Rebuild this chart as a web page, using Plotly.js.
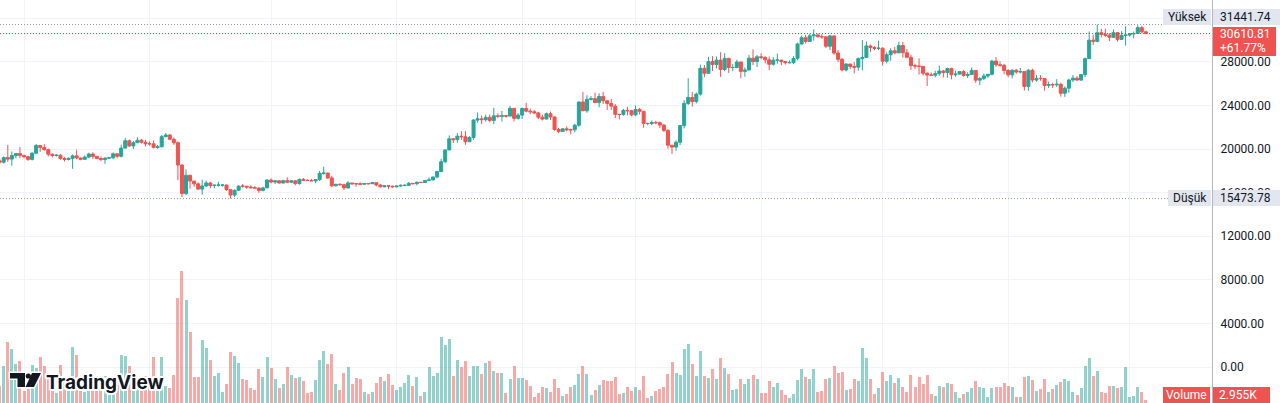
<!DOCTYPE html>
<html><head><meta charset="utf-8">
<script src="https://cdn.plot.ly/plotly-3.0.1.min.js"></script>
<style>
html,body{margin:0;padding:0;background:#fff;overflow:hidden}
#chart{width:1280px;height:403px}
</style></head><body><div id="chart"></div>
<script>
// ---------------- DATA (daily candles, 2022-09-25 .. 2023-07-05) ----------------
const startDate = [2022, 8, 25];          // year, month index, day of first candle
const firstOpen = 18925;

const closePrices = [
  /*Sep*/ 18803,19222,19084,19412,19591,19422,
  /*Oct*/ 19310,19056,19629,20337,20159,19955,19531,19417,19446,19141,19051,19157,19382,19185,19067,19268,19550,19334,19139,19053,19172,19208,19567,19345,20095,20771,20295,20591,20818,20635,20495,
  /*Nov*/ 20485,20159,20209,21148,21300,20905,20591,18547,15922,17601,17070,16812,16330,16619,16900,16662,16692,16700,16700,16280,15781,16227,16603,16598,16522,16458,16428,16213,16442,17163,
  /*Dec*/ 16977,17092,16885,17105,16967,17089,16836,17224,17128,17127,17085,17208,17775,17804,17356,16632,16776,16739,16438,16895,16824,16821,16778,16837,16830,16919,16706,16547,16633,16607,16542,
  /*Jan*/ 16616,16672,16675,16850,16831,16950,16943,17128,17178,17440,17943,18846,19930,20954,20872,21185,21133,20677,21071,22667,22783,22707,22916,22633,23061,23009,23075,23032,23743,22827,23125,
  /*Feb*/ 23732,23488,23431,23326,22933,22762,23249,22954,21797,21625,21862,21783,21773,22199,24324,23518,24569,24631,24271,24838,24439,24188,23947,23198,23175,23561,23523,23147,
  /*Mar*/ 23646,23475,22362,22354,22435,22429,22216,21718,20363,20187,20633,22163,24197,24746,24375,25052,27423,26965,28038,27767,28175,27307,28333,27493,27494,27994,27139,27268,28348,28033,28478,
  /*Apr*/ 28411,28199,27790,28168,28175,28044,27925,27947,28333,29653,30235,29892,30400,30485,30318,30315,29445,30397,28822,28245,27262,27817,27591,27525,28307,28422,29473,29340,29248,29268,
  /*May*/ 28068,28669,29026,28838,29506,28848,28430,27668,27628,27598,26968,26805,26785,26930,27171,27036,27398,26833,26889,27118,26760,26850,27225,26334,26476,26719,26868,28085,27745,27702,27219,
  /*Jun*/ 26819,27249,27075,27119,25760,27238,26346,26498,26478,25841,25925,25902,25954,25128,25598,26345,26517,26339,26845,28307,30007,29890,30688,30528,30462,30267,30693,30077,30446,30472,
  /*Jul*/ 30585,30617,31156,30767,30610.81
];

const highPrices = [
  /*Sep*/ 19180,19316,20385,19790,19645,20185,
  /*Oct*/ 19484,19395,19719,20475,20365,20456,20055,19620,19559,19527,19264,19224,19513,19951,19228,19424,19676,19706,19360,19345,19250,19250,19695,19601,20415,21020,20876,20750,21085,20930,20840,
  /*Nov*/ 20700,20800,20390,21300,21480,21370,21060,20700,18590,18150,17650,17080,16950,17190,17134,17000,16750,17000,16800,16750,16290,16300,16680,16800,16610,16690,16600,16480,16550,17250,
  /*Dec*/ 17320,17105,17160,17200,17425,17110,17140,17300,17350,17225,17270,17240,18000,18387,17850,17530,16800,16860,16820,17060,16900,16865,16950,16870,16860,16940,16970,16780,16650,16640,16640,
  /*Jan*/ 16630,16760,16780,16990,16880,17040,16980,17170,17400,17490,18000,19100,19970,21260,21000,21470,21640,21650,21190,22750,23370,23080,23170,23180,23800,23280,23500,23160,23960,23790,23300,
  /*Feb*/ 23810,24255,23720,23590,23430,23160,23360,23450,23010,21940,21900,22090,21890,22320,24380,25250,24950,24870,25180,25120,25250,24480,24600,24130,23220,23690,23880,23600,
  /*Mar*/ 24000,23790,23480,22420,22620,22600,22550,22270,21830,20370,20800,22200,24500,26500,25250,25200,27750,27725,28470,28530,28500,28900,28800,28380,27800,28200,28050,27500,28650,29160,28650,
  /*Apr*/ 28800,28530,28500,28450,28770,28190,28100,28150,28530,29770,30420,30500,30600,31000,30600,30550,30320,30490,30410,29100,28370,27880,27820,28000,28400,30020,29890,29600,29450,29960,
  /*May*/ 29330,28880,29270,29380,29850,29840,29180,28660,27830,28330,27640,27050,27030,27200,27670,27270,27480,27480,27200,27150,27270,27050,27500,27230,26630,26930,26890,28200,28450,28050,27830,
  /*Jun*/ 27350,27300,27340,27450,27130,27360,27390,26800,26790,26530,26200,26100,26420,26100,25750,26480,26800,26700,26890,28400,30800,30500,31441.74,31040,31050,30650,31000,30700,30830,31280,
  /*Jul*/ 30660,30790,31380,31330,30880
];

const lowPrices = [
  /*Sep*/ 18630,18680,18816,18471,19155,19155,
  /*Oct*/ 19159,18920,18959,19593,19730,19853,19320,19255,19320,19030,18860,18958,18190,19071,18975,19063,19160,19100,19072,18900,18650,19115,19070,19157,19240,20060,20200,20000,20555,20515,20250,
  /*Nov*/ 20330,20060,20030,20180,21080,20880,20390,17166,15588,15755,16360,16550,16260,15815,16530,16400,16400,16560,16555,16180,15473.78,15605,16160,16460,16350,16400,16400,16000,16120,16430,
  /*Dec*/ 16855,16790,16860,16880,16870,16905,16680,16735,17060,17090,17070,16870,17080,17660,17275,16527,16585,16660,16256,16400,16710,16560,16750,16770,16730,16790,16590,16470,16490,16330,16470,
  /*Jan*/ 16500,16550,16600,16660,16750,16680,16910,16910,17100,17140,17320,17900,18700,19890,20550,20600,20850,20400,20660,20860,22420,22300,22520,22460,22300,22850,22530,22890,23000,22550,22710,
  /*Feb*/ 22770,23370,23200,23250,22750,22630,22750,22670,21690,21450,21600,21630,21350,21530,22050,23500,23340,24460,24250,23840,24150,23600,23610,22860,22720,23070,23100,23020,
  /*Mar*/ 23030,23200,21970,22200,22200,22280,21930,21580,20050,19550,19850,20370,21900,24050,23900,24200,24900,26600,26900,27170,27400,26630,27150,27000,27150,27420,26510,26650,27250,27700,27540,
  /*Apr*/ 28250,27870,27250,27660,27830,27710,27770,27880,27800,28170,29610,29700,29870,29960,30250,30120,29270,29100,28660,28010,27140,27130,27340,26940,27200,27230,28380,28900,29080,29090,
  /*May*/ 27670,27870,28130,28700,28810,28400,28380,27280,27350,26850,26750,25800,26700,26600,26740,26580,26550,26410,26650,26850,26650,26530,26800,26080,25870,26330,26540,26780,27560,27560,26870,
  /*Jun*/ 26600,26500,26920,26950,25390,25350,26130,26200,26280,25370,25600,25600,25710,24820,24800,25170,26170,26290,26260,26620,28270,29560,29810,30250,30300,29920,30220,29870,30040,29500,
  /*Jul*/ 30320,30170,30580,30630,30550
];

const volumesK = [
  /*Sep*/ 17,37,61,54,39,42,
  /*Oct*/ 12,14,38,35,46,37,28,12,10,38,27,22,56,48,12,11,22,25,20,24,27,9,14,27,48,47,37,30,22,15,27,
  /*Nov*/ 22,46,25,46,17,15,28,105,132,103,71,26,26,63,55,43,27,30,11,19,51,47,40,24,23,15,13,34,26,46,
  /*Dec*/ 35,24,15,19,36,28,25,26,22,10,11,23,43,52,39,49,19,13,30,36,19,25,24,11,9,11,20,26,22,29,18,
  /*Jan*/ 13,16,20,28,17,26,7,11,36,27,30,66,58,64,27,43,36,42,27,37,37,29,40,42,32,30,30,10,24,37,25,
  /*Feb*/ 25,23,17,6,10,16,15,11,24,15,7,9,16,18,29,37,29,8,13,18,23,22,22,26,9,10,16,12,
  /*Mar*/ 16,13,27,5,7,12,14,16,29,41,30,28,54,59,39,27,52,27,25,34,24,45,35,29,13,14,24,19,24,28,24,
  /*Apr*/ 10,10,22,16,20,13,8,5,9,23,34,26,24,34,11,12,24,25,37,30,31,13,14,24,22,55,45,24,9,15,
  /*May*/ 31,22,28,20,25,16,11,28,16,26,19,28,9,7,17,16,20,19,11,5,9,11,15,22,16,15,6,15,16,16,20,
  /*Jun*/ 17,16,6,6,26,27,23,12,14,24,11,14,18,21,24,22,11,8,15,37,45,27,32,11,10,17,17,15,16,36,
  /*Jul*/ 6,7,16,11,2.955
];

const priceTickStep = 4000;
const highValue = 31441.74;
const lowValue = 15473.78;
const lastValue = 30610.81;
const changeText = '+61.77%';
const volumeText = '2.955K';
const highName = 'Yüksek';
const lowName = 'Düşük';
const volumeName = 'Volume';
const logoText = 'TradingView';

// ---------------- BUILD ----------------
const dates = closePrices.map((_, i) => {
  const d = new Date(Date.UTC(startDate[0], startDate[1], startDate[2] + i));
  return d.toISOString().slice(0, 10);
});
const openPrices = closePrices.map((c, i) => i === 0 ? firstOpen : closePrices[i - 1]);

const UP = '#26a69a', DOWN = '#ef5350';
const UP_VOL = 'rgba(38,166,154,0.5)', DOWN_VOL = 'rgba(239,83,80,0.5)';
const volColors = closePrices.map((c, i) => c >= openPrices[i] ? UP_VOL : DOWN_VOL);

const W = 1280, H = 403, PLOT_W = 1212, PLOT_H = 403;
const px = v => v / PLOT_W;           // pixel x -> paper
const py = v => 1 - v / PLOT_H;       // pixel y -> paper

const volumeTrace = {
  type: 'bar', x: dates, y: volumesK, xaxis: 'x', yaxis: 'y',
  marker: {color: volColors, line: {width: 0}},
  width: 0.74 * 86400000, hoverinfo: 'skip'
};
const candleTrace = {
  type: 'candlestick', x: dates, open: openPrices, high: highPrices, low: lowPrices, close: closePrices,
  xaxis: 'x', yaxis: 'y2',
  increasing: {line: {color: UP, width: 1}, fillcolor: UP},
  decreasing: {line: {color: DOWN, width: 1}, fillcolor: DOWN},
  whiskerwidth: 0, hoverinfo: 'skip'
};

function rect(x0, y0, x1, y1, color) {
  return {type: 'rect', xref: 'paper', yref: 'paper', x0: px(x0), x1: px(x1), y0: py(y1), y1: py(y0),
          fillcolor: color, line: {width: 0}, layer: 'above'};
}
function hline(value, color) {
  return {type: 'line', xref: 'paper', yref: 'y2', x0: 0, x1: 1, y0: value, y1: value,
          line: {color: color, width: 1, dash: '1px,2px'}, layer: 'above'};
}
function poly(points, fill, stroke, sw) {
  const d = points.map((p, i) => (i ? 'L' : 'M') + px(p[0]) + ',' + py(p[1])).join(' ') + ' Z';
  return {type: 'path', xref: 'paper', yref: 'paper', path: d, fillcolor: fill,
          line: {color: stroke, width: sw}, layer: 'above'};
}
function circle(cx, cy, r, fill, stroke, sw) {
  return {type: 'circle', xref: 'paper', yref: 'paper', x0: px(cx - r), x1: px(cx + r), y0: py(cy + r), y1: py(cy - r),
          fillcolor: fill, line: {color: stroke, width: sw}, layer: 'above'};
}

const LABEL_BG = '#e1e6ef';
const logoT = [[10,373],[25,373],[25,387],[17.5,387],[17.5,378.5],[10,378.5]];
const logoSlash = [[32,373],[41,373],[34,387],[25.5,387]];
const shapes = [
  hline(highValue, '#9598a1'),
  hline(lowValue, '#9598a1'),
  hline(lastValue, '#f23645'),
  rect(1163, 9, 1211, 25, LABEL_BG),
  rect(1213, 9, 1280, 25, LABEL_BG),
  rect(1213, 27, 1276, 56, DOWN),
  rect(1168, 190, 1211, 206, LABEL_BG),
  rect(1213, 190, 1280, 206, LABEL_BG),
  rect(1163, 387, 1210, 403, DOWN),
  rect(1213, 387, 1270, 403, DOWN),
  // logo halo then logo
  poly(logoT, '#ffffff', '#ffffff', 3),
  poly(logoSlash, '#ffffff', '#ffffff', 3),
  circle(28.3, 376, 2.6, '#ffffff', '#ffffff', 3),
  poly(logoT, '#131722', 'rgba(0,0,0,0)', 0),
  poly(logoSlash, '#131722', 'rgba(0,0,0,0)', 0),
  circle(28.3, 376, 2.6, '#131722', 'rgba(0,0,0,0)', 0)
];

const FONT = 'Roboto, "Liberation Sans", sans-serif';
function label(text, x, y, anchor, color) {
  return {text: text, xref: 'paper', yref: 'paper', x: px(x), y: py(y), xanchor: anchor, yanchor: 'middle',
          showarrow: false, font: {family: FONT, size: 12, color: color}, borderpad: 0, borderwidth: 0};
}
const annotations = [
  label(highName, 1187, 17, 'center', '#131722'),
  label(highValue.toFixed(2), 1220, 17, 'left', '#131722'),
  label(lastValue.toFixed(2), 1220, 34, 'left', '#ffffff'),
  label(changeText, 1220, 48, 'left', '#ffffff'),
  label(lowName, 1189.5, 198, 'center', '#131722'),
  label(lowValue.toFixed(2), 1220, 198, 'left', '#131722'),
  label(volumeName, 1186.5, 395, 'center', '#ffffff'),
  label(volumeText, 1219, 395, 'left', '#ffffff'),
  {text: '<b>' + logoText + '</b>', xref: 'paper', yref: 'paper', x: px(45), y: py(382), xanchor: 'left', yanchor: 'middle',
   showarrow: false, font: {family: 'Inter, "Noto Sans", sans-serif', size: 19, color: '#131722'}, borderpad: 0}
];

const GRID = '#f0f3fa';
const layout = {
  width: W, height: H, margin: {l: 0, r: W - PLOT_W, t: 0, b: 0, pad: 0},
  paper_bgcolor: '#ffffff', plot_bgcolor: '#ffffff', showlegend: false,
  boxgap: 0.26, boxgroupgap: 0, boxmode: 'overlay', bargap: 0,
  xaxis: {type: 'date', range: ['2022-09-25 01:47', '2023-07-21 08:00'], showgrid: true, gridcolor: GRID,
          tick0: '2022-10-01', dtick: 'M1', tickmode: 'linear', showticklabels: false, ticks: '', zeroline: false,
          showline: false, rangeslider: {visible: false}, fixedrange: true},
  yaxis: {range: [0, 403], visible: false, showgrid: false, fixedrange: true},
  yaxis2: {overlaying: 'y', side: 'right', range: [-3305, 33691], tickmode: 'linear', tick0: 0, dtick: priceTickStep,
           tickformat: '.2f', showgrid: true, gridcolor: GRID, zeroline: false, showline: true, linecolor: '#b2b5be',
           linewidth: 1, ticks: '', ticklabelstandoff: 5,
           tickfont: {family: FONT, size: 12, color: '#131722'}, fixedrange: true},
  shapes: shapes, annotations: annotations
};

Plotly.newPlot('chart', [volumeTrace, candleTrace], layout, {staticPlot: true, displayModeBar: false});
// white halo behind logo text
setTimeout(() => {
  const t = document.querySelectorAll('g.annotation text');
  const logo = t[t.length - 1];
  if (logo) { logo.style.paintOrder = 'stroke'; logo.style.stroke = '#fff'; logo.style.strokeWidth = '4px'; logo.style.strokeLinejoin = 'round'; }
}, 0);
</script></body></html>
